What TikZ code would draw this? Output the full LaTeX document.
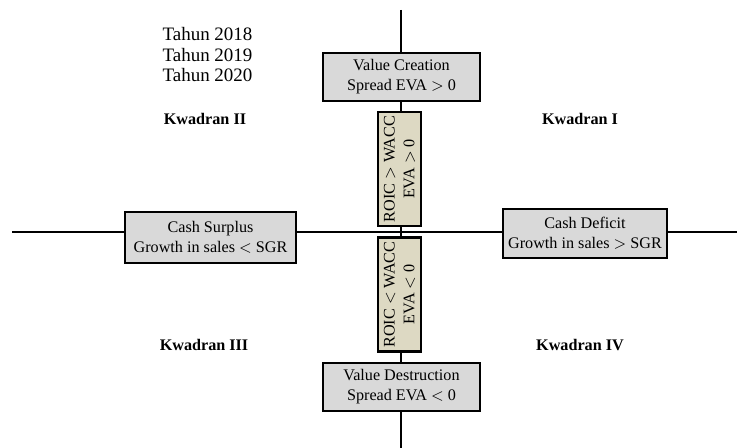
\documentclass[tikz,border=0pt]{standalone}
\usepackage{fontspec}
\setmainfont{Liberation Serif}
\usepackage{tikz}
\usetikzlibrary{positioning}
\definecolor{boxgray}{HTML}{D9D9D9}
\definecolor{boxtan}{HTML}{DDD9C3}

\begin{document}
\begin{tikzpicture}[node distance=0.22cm, font=\fontsize{9.2}{11.3}\selectfont]
\tikzstyle{axis}=[line width=1.1pt,black]
\tikzstyle{quad}=[rectangle,line width=1.4pt,draw=black,fill=boxgray,align=center,inner sep=1pt]
\tikzstyle{cond}=[rectangle,line width=1.4pt,draw=black,fill=boxtan,align=center,rotate=90,inner sep=1pt,minimum width=2.28cm,minimum height=0.86cm]
\tikzstyle{kw}=[font=\fontsize{9.2}{11}\selectfont\bfseries]
\tikzstyle{yr}=[font=\fontsize{10.8}{12}\selectfont,inner sep=0pt]
\useasboundingbox (0,0) rectangle (14.74,8.96);
% axes
\coordinate (top) at (8.02,8.76);
\coordinate (bot) at (8.02,0);
\coordinate (lft) at (0.24,4.32);
\coordinate (rgt) at (14.74,4.32);
\draw [axis] (top) -- (bot);
\draw [axis] (lft) -- (rgt);
% boxes
\node [quad,minimum width=3.14cm,minimum height=0.96cm] (vc) at (8.03,7.42) {Value Creation\\Spread EVA $>$ 0};
\node [cond] (up) at (7.99,5.58) {ROIC $>$ WACC\\EVA $>$ 0};
\node [cond] (dn) at (7.99,3.07) {ROIC $<$ WACC\\EVA $<$ 0};
\node [quad,minimum width=3.14cm,minimum height=0.96cm] (vd) at (8.03,1.22) {Value Destruction\\Spread EVA $<$ 0};
\node [quad,minimum width=3.42cm,minimum height=1.02cm] (cs) at (4.21,4.21) {Cash Surplus\\Growth in sales $<$ SGR};
\node [quad,minimum width=3.28cm,minimum height=0.98cm] (cd) at (11.7,4.29) {Cash Deficit\\Growth in sales $>$ SGR};
% legend
\node [yr] (t18) at (4.15,8.28) {Tahun 2018};
\node [yr] (t19) [below=0.13cm of t18] {Tahun 2019};
\node [yr] (t20) [below=0.13cm of t19] {Tahun 2020};
% quadrants
\node [kw] (k2) at (4.1,6.58) {Kwadran II};
\node [kw] (k1) at (11.6,6.58) {Kwadran I};
\node [kw] (k3) at (4.08,2.06) {Kwadran III};
\node [kw] (k4) at (11.6,2.06) {Kwadran IV};
\end{tikzpicture}
\end{document}
